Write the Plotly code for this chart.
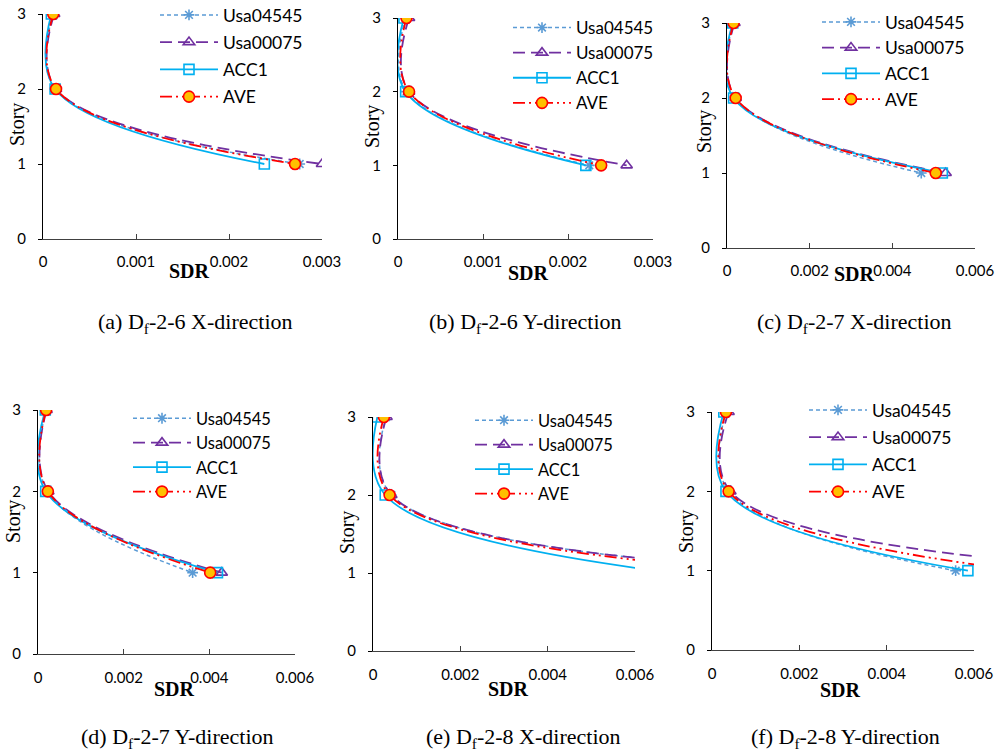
import plotly.graph_objects as go

W, H = 999, 751

stories = [3, 2, 1]
series_names = ["Usa04545", "Usa00075", "ACC1", "AVE"]

# SDR values at stories 3, 2, 1 for each panel
a_usa04545 = [0.00011, 0.00013, 0.00276]
a_usa00075 = [0.00012, 0.00014, 0.00300]
a_acc1 = [0.00009, 0.00013, 0.00238]
a_ave = [0.00011, 0.00014, 0.00271]

b_usa04545 = [0.00009, 0.00010, 0.00225]
b_usa00075 = [0.00013, 0.00013, 0.00269]
b_acc1 = [0.00007, 0.00009, 0.00221]
b_ave = [0.00010, 0.00013, 0.00239]

c_usa04545 = [0.00015, 0.00020, 0.00470]
c_usa00075 = [0.00018, 0.00021, 0.00529]
c_acc1 = [0.00014, 0.00016, 0.00521]
c_ave = [0.00016, 0.00021, 0.00505]

d_usa04545 = [0.00019, 0.00022, 0.00361]
d_usa00075 = [0.00020, 0.00024, 0.00429]
d_acc1 = [0.00017, 0.00018, 0.00419]
d_ave = [0.00019, 0.00023, 0.00402]

e_usa04545 = [0.00030, 0.00042, 0.01050]
e_usa00075 = [0.00031, 0.00042, 0.01050]
e_acc1 = [0.00010, 0.00028, 0.00690]
e_ave = [0.00025, 0.00038, 0.00930]

f_usa04545 = [0.00032, 0.00038, 0.00558]
f_usa00075 = [0.00038, 0.00042, 0.00980]
f_acc1 = [0.00027, 0.00032, 0.00586]
f_ave = [0.00032, 0.00038, 0.00708]

x_max = [0.003, 0.003, 0.006, 0.006, 0.006, 0.006]
x_tick_vals_small = [0, 0.001, 0.002, 0.003]
x_tick_text_small = ["0", "0.001", "0.002", "0.003"]
x_tick_vals_large = [0, 0.002, 0.004, 0.006]
x_tick_text_large = ["0", "0.002", "0.004", "0.006"]
y_tick_vals = [0, 1, 2, 3]

captions = [
    "(a) D<sub>f</sub>-2-6 X-direction",
    "(b) D<sub>f</sub>-2-6 Y-direction",
    "(c) D<sub>f</sub>-2-7 X-direction",
    "(d) D<sub>f</sub>-2-7 Y-direction",
    "(e) D<sub>f</sub>-2-8 X-direction",
    "(f) D<sub>f</sub>-2-8 Y-direction",
]

panel_data = [
    [a_usa04545, a_usa00075, a_acc1, a_ave],
    [b_usa04545, b_usa00075, b_acc1, b_ave],
    [c_usa04545, c_usa00075, c_acc1, c_ave],
    [d_usa04545, d_usa00075, d_acc1, d_ave],
    [e_usa04545, e_usa00075, e_acc1, e_ave],
    [f_usa04545, f_usa00075, f_acc1, f_ave],
]

# ---- layout geometry (pixels) ----
# plot area: left, right, top, bottom
areas = [
    (43, 322, 14, 239),
    (398, 653, 18, 239),
    (727, 975, 23, 248),
    (38, 295, 410, 654),
    (373, 635, 417, 651),
    (712, 974, 412, 650),
]
# legend: symbol start x, top y, group gap, font size
legend_pos = [
    (160, -3, 1.5, 17.5),
    (513, 10, 0, 17),
    (822, 4, 0, 17.5),
    (133, 401, 0, 16.5),
    (475, 403, 0, 16.5),
    (809, 392, 1.5, 17.5),
]
story_pos = [(18, 125), (373, 127), (705, 132), (13, 522), (347, 533), (686, 532)]
sdr_pos = [(189, 271), (528, 273), (854, 274), (174, 689), (508, 689), (840, 690)]
caption_pos = [(195, 323), (525, 323), (854, 323), (177, 738), (523, 738), (845, 738)]

styles = [
    dict(color="#5B9BD5", dash="4px,3px", symbol="asterisk-open", msize=9, fill=None, width=1.5),
    dict(color="#7030A0", dash="12px,6px", symbol="triangle-up-open", msize=10, fill=None, width=1.8),
    dict(color="#00B0F0", dash="solid", symbol="square-open", msize=10, fill=None, width=1.8),
    dict(color="#FF0000", dash="12px,4px,2px,4px,2px,4px", symbol="circle", msize=11, fill="#FFC000", width=1.8),
]

fig = go.Figure()

def px_x(v):
    return v / W

def px_y(v):
    return 1 - v / H

annotations = []
for i in range(6):
    n = "" if i == 0 else str(i + 1)
    xa = "x" + n
    ya = "y" + n
    leg = "legend" + n
    for j, name in enumerate(series_names):
        st = styles[j]
        marker = dict(symbol=st["symbol"], size=st["msize"], color=st["fill"] if st["fill"] else st["color"],
                      line=dict(color=st["color"], width=1.6))
        fig.add_trace(go.Scatter(
            x=panel_data[i][j], y=stories, name=name, mode="lines+markers",
            line=dict(color=st["color"], dash=st["dash"], width=st["width"], shape="spline", smoothing=1.1),
            marker=marker, xaxis=xa, yaxis=ya, legend=leg,
            legendgroup=f"p{i}s{j}", cliponaxis=True,
        ))
    l, r, t, b = areas[i]
    big = x_max[i] > 0.004
    fig.layout["xaxis" + n] = dict(
        domain=[px_x(l), px_x(r)], range=[0, x_max[i]], anchor=ya,
        tickvals=x_tick_vals_large if big else x_tick_vals_small,
        ticktext=x_tick_text_large if big else x_tick_text_small,
        showline=True, linecolor="#404040", linewidth=1, ticks="inside", ticklen=5,
        tickcolor="#404040", showgrid=False, zeroline=False, automargin=False,
        tickfont=dict(family="Lato", size=15, color="#000"), ticklabelstandoff=9 if i < 3 else 10,
        fixedrange=True,
    )
    fig.layout["yaxis" + n] = dict(
        domain=[px_y(b), px_y(t)], range=[0, 3], anchor=xa,
        tickvals=y_tick_vals, showline=True, linecolor="#000", linewidth=1,
        ticks="outside", ticklen=4, tickcolor="#000", showgrid=False, zeroline=False,
        automargin=False,
        tickfont=dict(family="Lato", size=15, color="#000"), ticklabelstandoff=9,
        fixedrange=True,
    )
    lx, ly, gap, fs = legend_pos[i]
    fig.layout[leg] = dict(
        x=px_x(lx - 5), y=px_y(ly), xanchor="left", yanchor="top",
        bgcolor="rgba(0,0,0,0)", borderwidth=0, itemwidth=58,
        font=dict(family="Lato", size=fs, color="#000"), tracegroupgap=gap,
        orientation="v",
    )
    sx, sy = story_pos[i]
    annotations.append(dict(text="Story", x=px_x(sx), y=px_y(sy), xref="paper", yref="paper",
                            textangle=-90, showarrow=False, xanchor="center", yanchor="middle",
                            font=dict(family="Liberation Serif", size=20, color="#000")))
    dx, dy = sdr_pos[i]
    annotations.append(dict(text="<b>SDR</b>", x=px_x(dx), y=px_y(dy), xref="paper", yref="paper",
                            showarrow=False, xanchor="center", yanchor="middle",
                            font=dict(family="Liberation Serif", size=20, color="#000")))
    cx, cy = caption_pos[i]
    annotations.append(dict(text=captions[i], x=px_x(cx), y=px_y(cy), xref="paper", yref="paper",
                            showarrow=False, xanchor="center", yanchor="middle",
                            font=dict(family="Liberation Serif", size=22, color="#000")))

fig.update_layout(
    width=W, height=H, margin=dict(l=0, r=0, t=0, b=0, pad=0, autoexpand=False),
    paper_bgcolor="white", plot_bgcolor="white",
    annotations=annotations, showlegend=True,
)

fig.write_html("out.html", config={"displayModeBar": False},
               post_script="document.body.style.margin='0px';document.body.style.overflow='hidden';")
